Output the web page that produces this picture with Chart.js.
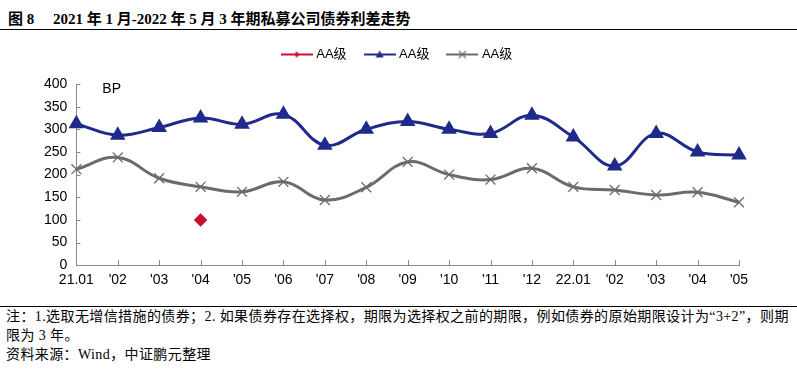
<!DOCTYPE html>
<html>
<head>
<meta charset="utf-8">
<script src="https://cdn.jsdelivr.net/npm/chart.js@4.4.1/dist/chart.umd.min.js"></script>
<style>
  body { margin: 0; background: #fff; width: 797px; height: 370px; position: relative; overflow: hidden; }
  #title { position: absolute; left: 8px; top: 7px; font: bold 15px "Liberation Serif", "Noto Sans CJK SC", serif; color: #000; white-space: pre; }
  #topline { position: absolute; left: 0; top: 29px; width: 797px; height: 1px; background: #000; }
  #box { position: absolute; left: 0; top: 32px; width: 797px; height: 268px; }
  #botline { position: absolute; left: 0; top: 306px; width: 797px; height: 1px; background: #000; }
  #notes { position: absolute; left: 6px; top: 307px; font: 14px "Liberation Serif", "Noto Sans CJK SC", serif; letter-spacing: 0.4px; line-height: 19px; color: #000; white-space: pre; }
</style>
</head>
<body>
<div id="title">图 8     2021 年 1 月-2022 年 5 月 3 年期私募公司债券利差走势</div>
<div id="topline"></div>
<div id="box"><canvas id="my-chart"></canvas></div>
<div id="botline"></div>
<div id="notes">注：1.选取无增信措施的债券；2. 如果债券存在选择权，期限为选择权之前的期限，例如债券的原始期限设计为“3+2”，则期
限为 3 年。
资料来源：Wind，中证鹏元整理</div>
<script>
const months = ['21.01', "'02", "'03", "'04", "'05", "'06", "'07", "'08", "'09", "'10", "'11", "'12",
   '22.01', "'02", "'03", "'04", "'05"];
const seriesNames = ['AA级', 'AA级', 'AA级'];
const redVals = [null, null, null, 100, null, null, null, null, null, null, null, null, null, null, null, null, null];
const blueVals = [312, 287, 304, 325, 311, 333, 265, 300, 317, 300, 291, 331, 283, 219, 291, 250, 243];
const greyVals = [212, 238, 192, 173, 162, 184, 144, 172, 228, 200, 189, 214, 173, 166, 155, 161, 139];

const RED = '#C8102E', BLUE = '#1F2A8A', GREY = '#6B6B6B';

// legend icons: short line with a small marker in the middle
function legendIcon(color, style) {
   const c = document.createElement('canvas');
   c.width = 32; c.height = 10;
   const g = c.getContext('2d');
   g.strokeStyle = color; g.fillStyle = color; g.lineWidth = 2;
   g.beginPath(); g.moveTo(0, 5); g.lineTo(32, 5); g.stroke();
   g.beginPath();
   if (style === 'diamond') {
      g.moveTo(16, 2); g.lineTo(19, 5); g.lineTo(16, 8); g.lineTo(13, 5); g.closePath(); g.fill();
   } else if (style === 'triangle') {
      g.moveTo(16, 1); g.lineTo(20, 8); g.lineTo(12, 8); g.closePath(); g.fill();
   } else {
      g.lineWidth = 1.2;
      g.moveTo(12.5, 1.5); g.lineTo(19.5, 8.5); g.moveTo(19.5, 1.5); g.lineTo(12.5, 8.5); g.stroke();
   }
   return c;
}
const icons = [legendIcon(RED, 'diamond'), legendIcon(BLUE, 'triangle'), legendIcon(GREY, 'cross')];

// legend tweaks: fixed height, then nudge it into place
const legendTweak = {
   id: 'legendTweak',
   beforeInit(chart) {
      const fit = chart.legend.fit;
      chart.legend.fit = function () {
         fit.call(this);
         this.height = 52;
      };
   },
   afterLayout(chart) {
      const lg = chart.legend;
      lg.left += 11; lg.right += 11;
      lg.top -= 4; lg.bottom -= 4;
   }
};

// "BP" unit label + inward tick marks
const extras = {
   id: 'extras',
   afterDraw(chart) {
      const { ctx, chartArea, scales } = chart;
      ctx.save();
      ctx.font = '14px "Liberation Sans", Arial, sans-serif';
      ctx.fillStyle = '#000';
      ctx.textBaseline = 'top';
      ctx.fillText('BP', chartArea.left + 26, chartArea.top - 2);
      ctx.strokeStyle = '#888';
      ctx.lineWidth = 1;
      ctx.beginPath();
      scales.x.ticks.forEach((t, i) => {
         const x = Math.round(scales.x.getPixelForTick(i)) + 0.5;
         ctx.moveTo(x, chartArea.bottom); ctx.lineTo(x, chartArea.bottom - 5);
      });
      scales.y.ticks.forEach((t, i) => {
         const y = Math.round(scales.y.getPixelForTick(i)) + 0.5;
         ctx.moveTo(chartArea.left, y); ctx.lineTo(chartArea.left + 4, y);
      });
      ctx.stroke();
      ctx.restore();
   }
};

const axisGrid = { display: true, drawOnChartArea: false, drawTicks: false, color: '#888' };

const ctx = document.getElementById('my-chart').getContext('2d');
const chart = new Chart(ctx, {
   type: 'line',
   data: {
      labels: months,
      datasets: [
         {
            label: seriesNames[0], data: redVals,
            borderColor: RED, backgroundColor: RED,
            pointStyle: 'rectRot', pointRadius: 5, borderWidth: 2.5
         },
         {
            label: seriesNames[1], data: blueVals,
            borderColor: BLUE, backgroundColor: BLUE,
            pointStyle: 'triangle', pointRadius: 6, borderWidth: 3, tension: 0.4
         },
         {
            label: seriesNames[2], data: greyVals,
            borderColor: GREY, backgroundColor: GREY,
            pointStyle: 'crossRot', pointRadius: 7, pointBorderWidth: 1.3, borderWidth: 3, tension: 0.4
         }
      ]
   },
   options: {
      responsive: true,
      maintainAspectRatio: false,
      animation: false,
      layout: { padding: { left: 35, right: 58, top: 0, bottom: 4 } },
      plugins: {
         legend: {
            position: 'top',
            labels: {
               usePointStyle: true,
               pointStyleWidth: 26,
               boxHeight: 10,
               padding: 20,
               color: '#000',
               font: { family: '"Liberation Sans", "Noto Sans CJK SC", sans-serif', size: 13 },
               generateLabels(ch) {
                  const items = Chart.defaults.plugins.legend.labels.generateLabels(ch);
                  items.forEach((it, i) => { it.pointStyle = icons[i]; });
                  return items;
               }
            }
         },
         tooltip: { enabled: false }
      },
      scales: {
         x: {
            offset: false,
            grid: axisGrid,
            border: { color: '#888' },
            ticks: { color: '#000', maxRotation: 0, autoSkip: false, padding: 7,
               font: { family: '"Liberation Sans", Arial, sans-serif', size: 14 } }
         },
         y: {
            min: 0, max: 400,
            grid: axisGrid,
            border: { color: '#888' },
            ticks: { stepSize: 50, color: '#000', padding: 9,
               font: { family: '"Liberation Sans", Arial, sans-serif', size: 14 } }
         }
      }
   },
   plugins: [legendTweak, extras]
});
</script>
</body>
</html>
